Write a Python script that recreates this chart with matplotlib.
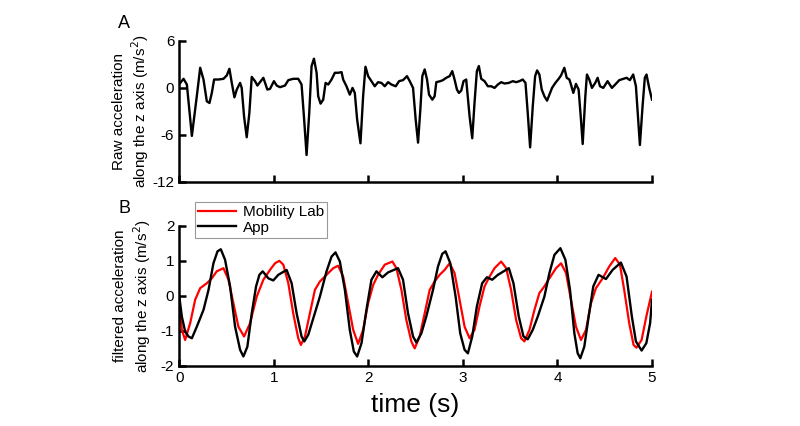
import matplotlib
matplotlib.use("Agg")
from matplotlib import pyplot as plt

plt.rcParams['font.family'] = ['Liberation Sans', 'DejaVu Sans']
plt.rcParams['axes.unicode_minus'] = False

# panel A: raw acceleration (m/s^2) vs time (s)
raw_t = [0.0, 0.011, 0.046, 0.081, 0.134, 0.186, 0.222, 0.257, 0.292, 0.320, 0.345, 0.369, 0.415,
         0.468, 0.503, 0.531, 0.556, 0.584, 0.609, 0.644, 0.661, 0.686, 0.714, 0.742, 0.767, 0.802,
         0.827, 0.855, 0.890, 0.932, 0.960, 1.002, 1.031, 1.066, 1.119, 1.154, 1.206, 1.259, 1.294,
         1.319, 1.347, 1.375, 1.400, 1.425, 1.453, 1.470, 1.495, 1.523, 1.548, 1.576, 1.611, 1.646,
         1.681, 1.717, 1.734, 1.769, 1.804, 1.833, 1.857, 1.882, 1.917, 1.945, 1.970, 1.998, 2.033,
         2.068, 2.103, 2.139, 2.174, 2.209, 2.244, 2.290, 2.325, 2.367, 2.409, 2.438, 2.473, 2.501,
         2.526, 2.550, 2.571, 2.596, 2.621, 2.642, 2.677, 2.701, 2.719, 2.761, 2.789, 2.824, 2.860,
         2.888, 2.912, 2.937, 2.958, 2.983, 3.007, 3.035, 3.071, 3.099, 3.123, 3.148, 3.169, 3.194,
         3.229, 3.264, 3.299, 3.335, 3.370, 3.405, 3.440, 3.486, 3.528, 3.563, 3.598, 3.633, 3.662,
         3.686, 3.711, 3.739, 3.764, 3.785, 3.809, 3.834, 3.862, 3.890, 3.915, 3.943, 3.978, 4.013,
         4.038, 4.073, 4.098, 4.126, 4.143, 4.168, 4.196, 4.224, 4.249, 4.267, 4.295, 4.312, 4.337,
         4.365, 4.400, 4.425, 4.450, 4.485, 4.530, 4.576, 4.611, 4.654, 4.696, 4.731, 4.766, 4.801,
         4.830, 4.851, 4.872, 4.900, 4.924, 4.942, 4.970, 5.0]
raw_acc = [0.5, 0.64, 1.16, 0.43, -6.13, -1.07, 2.57, 1.07, -1.71, -1.93, -0.64, 1.07, 1.07,
           1.16, 1.59, 2.44, 0.64, -1.2, -0.21, 0.64, 0.0, -3.64, -6.3, -3.21, 1.41, 0.86,
           0.3, 0.73, 1.29, -0.21, -0.13, 0.86, 0.3, 0.09, 0.3, 0.99, 1.16, 1.16, 0.43,
           -3.64, -8.57, -3.21, 2.79, 3.73, 1.93, -1.07, -2.01, -1.5, 0.64, 0.43, 1.07, 1.93,
           1.93, 2.01, 1.07, 0.21, -0.86, 0.0, -0.64, -4.07, -7.07, -1.07, 2.7, 1.5, 0.86,
           0.21, 0.73, 0.64, 0.21, 0.73, 0.43, 0.21, 0.86, 0.99, 1.5, 0.86, 0.0, -4.07,
           -6.99, -2.79, 1.5, 2.36, 1.07, -0.86, -1.5, -1.07, 0.73, 0.86, 0.99, 1.29, 1.5,
           2.14, 1.07, -0.21, -0.64, -0.34, 0.86, 1.07, -3.64, -6.43, -1.93, 2.14, 2.79, 1.16,
           0.86, 0.21, 0.21, 0.0, 0.43, 0.73, 0.56, 0.64, 0.86, 0.73, 0.86, 1.07, 0.64,
           -3.21, -7.59, -2.36, 1.5, 2.23, 1.71, -0.21, -1.07, -1.63, -0.86, 0.0, 0.64, 1.16,
           1.59, 2.57, 1.29, 1.07, 0.43, -0.64, 0.51, -0.21, -4.07, -7.16, -1.07, 1.71, 1.07,
           0.0, 0.64, 1.29, 0.21, 0.0, 0.86, 0.0, 0.43, 0.99, 1.16, 1.29, 0.99, 1.71,
           0.21, -3.64, -7.29, -2.36, 1.29, 1.71, 0.0, -1.5]

# panel B: filtered acceleration
lab_t = [0.0, 0.028, 0.063, 0.116, 0.169, 0.222, 0.292, 0.345, 0.397, 0.468, 0.521, 0.573, 0.626,
         0.686, 0.749, 0.820, 0.890, 0.960, 1.013, 1.059, 1.101, 1.154, 1.206, 1.259, 1.287, 1.330,
         1.382, 1.435, 1.488, 1.558, 1.629, 1.681, 1.734, 1.787, 1.840, 1.892, 1.945, 1.998, 2.051,
         2.103, 2.174, 2.255, 2.297, 2.350, 2.402, 2.455, 2.490, 2.543, 2.596, 2.649, 2.701, 2.754,
         2.807, 2.860, 2.912, 2.965, 3.018, 3.071, 3.123, 3.176, 3.229, 3.282, 3.335, 3.405, 3.458,
         3.510, 3.563, 3.616, 3.651, 3.704, 3.757, 3.809, 3.862, 3.915, 3.985, 4.038, 4.091, 4.143,
         4.196, 4.249, 4.302, 4.355, 4.407, 4.478, 4.548, 4.611, 4.661, 4.706, 4.759, 4.805, 4.835,
         4.89, 4.94, 5.0]
lab_acc = [-0.11, -0.97, -1.26, -0.78, -0.11, 0.22, 0.36, 0.50, 0.70, 0.79, 0.46, -0.21, -0.88,
           -1.16, -0.78, -0.02, 0.46, 0.74, 0.93, 1.0, 0.89, 0.36, -0.50, -1.21, -1.40, -1.16,
           -0.5, 0.17, 0.41, 0.6, 0.79, 0.86, 0.55, -0.21, -0.97, -1.37, -0.97, -0.21, 0.31,
           0.6, 0.89, 0.98, 0.79, 0.17, -0.69, -1.30, -1.50, -1.16, -0.5, 0.17, 0.41, 0.6,
           0.74, 0.93, 0.65, -0.11, -0.88, -1.21, -0.97, -0.30, 0.27, 0.55, 0.79, 0.98, 0.79,
           0.17, -0.69, -1.21, -1.30, -0.97, -0.40, 0.08, 0.27, 0.5, 0.79, 0.93, 0.65, -0.11,
           -0.88, -1.26, -0.97, -0.21, 0.22, 0.5, 0.84, 1.08, 0.89, 0.17, -0.78, -1.40, -1.48,
           -1.26, -0.59, 0.12]

app_t = [0.0, 0.028, 0.063, 0.098, 0.134, 0.186, 0.257, 0.310, 0.362, 0.405, 0.440, 0.485, 0.538,
         0.591, 0.644, 0.679, 0.721, 0.767, 0.813, 0.848, 0.883, 0.943, 0.995, 1.048, 1.136, 1.189,
         1.242, 1.294, 1.323, 1.365, 1.418, 1.488, 1.558, 1.611, 1.653, 1.699, 1.752, 1.804, 1.847,
         1.882, 1.928, 1.980, 2.033, 2.086, 2.149, 2.209, 2.314, 2.367, 2.420, 2.473, 2.508, 2.561,
         2.613, 2.684, 2.737, 2.782, 2.817, 2.867, 2.923, 2.972, 3.018, 3.053, 3.099, 3.148, 3.204,
         3.254, 3.310, 3.370, 3.486, 3.535, 3.591, 3.641, 3.686, 3.739, 3.792, 3.862, 3.915, 3.968,
         4.031, 4.084, 4.133, 4.179, 4.214, 4.242, 4.284, 4.330, 4.379, 4.435, 4.513, 4.583, 4.671,
         4.731, 4.787, 4.830, 4.89, 4.94, 4.98, 5.0]
app_acc = [0.0, -0.59, -1.02, -1.16, -1.21, -0.88, -0.40, 0.17, 0.93, 1.27, 1.33, 1.03, 0.27,
           -0.88, -1.54, -1.73, -1.45, -0.50, 0.27, 0.6, 0.70, 0.5, 0.44, 0.6, 0.74, 0.36,
           -0.5, -1.16, -1.30, -1.11, -0.64, -0.02, 0.70, 1.12, 1.24, 0.98, 0.17, -0.97, -1.59,
           -1.73, -1.35, -0.40, 0.46, 0.70, 0.53, 0.67, 0.79, 0.46, -0.5, -1.16, -1.33, -1.07,
           -0.59, 0.17, 0.84, 1.2, 1.27, 0.93, -0.02, -1.07, -1.54, -1.64, -1.16, -0.30, 0.36,
           0.53, 0.46, 0.6, 0.79, 0.36, -0.59, -1.16, -1.24, -0.97, -0.59, -0.02, 0.65, 1.17,
           1.36, 1.03, 0.17, -1.07, -1.64, -1.78, -1.45, -0.59, 0.27, 0.6, 0.48, 0.74, 0.95,
           0.55, -0.59, -1.30, -1.56, -1.35, -0.78, -0.11]

x_ticks = [0, 1, 2, 3, 4, 5]
raw_yticks = [-12, -6, 0, 6]
filt_yticks = [-2, -1, 0, 1, 2]

fig = plt.figure(figsize=(8, 4.26), dpi=100)
ax1 = fig.add_axes([0.224, 0.573, 0.591, 0.331])
ax2 = fig.add_axes([0.224, 0.141, 0.591, 0.329])

for ax in (ax1, ax2):
    ax.spines['top'].set_visible(False)
    ax.spines['right'].set_visible(False)
    ax.spines['left'].set_linewidth(1.8)
    ax.spines['bottom'].set_linewidth(1.8)
    ax.tick_params(direction='in', width=1.8, length=5, labelsize=11)
    ax.set_xlim(0, 5)
    ax.set_xticks(x_ticks)

ax1.plot(raw_t, raw_acc, color='black', lw=1.7, solid_joinstyle='round')
ax1.set_ylim(-12, 6)
ax1.set_yticks(raw_yticks)
ax1.set_xticklabels([])
ax1.set_ylabel("Raw acceleration\nalong the z axis (m/s$^2$)", fontsize=11, labelpad=1)

ax2.plot(lab_t, lab_acc, color='red', lw=1.6, label='Mobility Lab', solid_joinstyle='round')
ax2.plot(app_t, app_acc, color='black', lw=1.7, label='App', solid_joinstyle='round')
ax2.set_ylim(-2, 2)
ax2.set_yticks(filt_yticks)
ax2.set_ylabel("filtered acceleration\nalong the z axis (m/s$^2$)", fontsize=11, labelpad=6)
ax2.set_xlabel("time (s)", fontsize=19, labelpad=6)

leg = fig.legend(loc='upper left', bbox_to_anchor=(0.244, 0.526), fontsize=11,
                 fancybox=False, edgecolor='gray', borderaxespad=0, handlelength=2.5,
                 labelspacing=0.1, borderpad=0.2, handletextpad=0.4)
leg.get_frame().set_linewidth(0.8)

fig.text(0.148, 0.935, "A", fontsize=13)
fig.text(0.148, 0.5, "B", fontsize=13)

fig.savefig("out.png", dpi=100, facecolor='white')
